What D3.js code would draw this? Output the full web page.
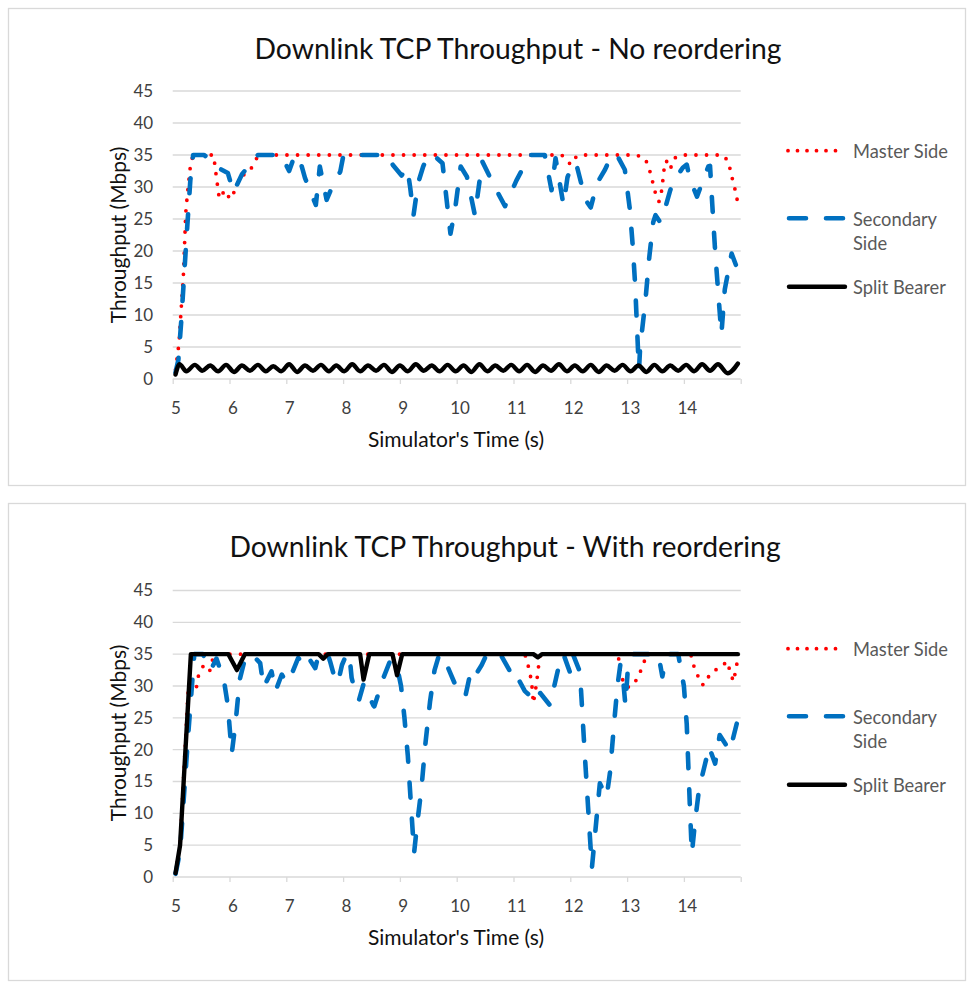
<!DOCTYPE html>
<html>
<head>
<meta charset="utf-8">
<script src="https://cdn.jsdelivr.net/npm/d3@7"></script>
<style>
  body { margin: 0; background: #fff; }
  svg { display: block; }
  text { font-family: Lato, "Open Sans", "Noto Sans", sans-serif; }
</style>
</head>
<body>
<svg id="chart" width="971" height="983"></svg>
<script>
// ---- data -----------------------------------------------------------------
const yTickValues = [0, 5, 10, 15, 20, 25, 30, 35, 40, 45];
const xTickLabels = [5, 6, 7, 8, 9, 10, 11, 12, 13, 14];
const seriesNames = ["Master Side", "Secondary Side", "Split Bearer"];
const chartTitles = [
  "Downlink TCP Throughput - No reordering",
  "Downlink TCP Throughput - With reordering"
];

// [time (s), throughput (Mbps)]
const noReorderMaster = [
  [5.0,1.5],[5.06,5.5],[5.1,11],[5.14,16.5],[5.18,26],[5.21,29],[5.27,34],[5.32,35],
  [5.67,35],[5.72,31.5],[5.77,28.2],[5.87,29.5],[5.96,28.1],[6.02,29],[6.14,31.6],
  [6.3,32.4],[6.43,34.5],[6.5,35],[11.8,35],[11.9,34],[11.96,33.5],[12.06,34.8],
  [12.12,35],[13.1,35],[13.25,34.6],[13.32,33.5],[13.38,31.5],[13.45,29],[13.51,27.7],
  [13.56,29.5],[13.61,33.5],[13.64,34.1],[13.71,32.8],[13.78,34.5],[13.9,35],
  [14.64,35],[14.73,34],[14.78,32.2],[14.82,30.6],[14.87,29],[14.9,27.3]
];
const noReorderSecondary = [
  [5.0,1],[5.05,3],[5.1,9],[5.2,23],[5.26,31],[5.31,35],[5.5,35],[5.62,34.3],
  [5.75,33],[5.92,32.2],[6.02,29.2],[6.17,32],[6.3,33.4],[6.45,35],[6.86,35],
  [7.0,32.5],[7.1,35],[7.19,34.2],[7.28,31.4],[7.47,27.2],[7.54,33.2],[7.66,28],
  [7.78,30.5],[7.9,32.4],[7.95,34.7],[7.98,35],[8.72,35],[8.83,33.4],[8.98,31.8],
  [9.08,33],[9.13,30],[9.19,25.6],[9.27,30.6],[9.36,33.2],[9.45,35],[9.54,35],
  [9.7,33.7],[9.76,29],[9.84,22.7],[9.92,26.4],[10.02,33.2],[10.13,31.6],[10.27,25.6],
  [10.4,34],[10.62,30],[10.8,27],[11.0,31],[11.24,35],[11.5,35],[11.62,29.5],
  [11.69,34.5],[11.83,27.2],[11.9,31.5],[11.97,33.2],[12.05,33.8],[12.15,30.3],
  [12.24,27.7],[12.31,26.8],[12.42,30.6],[12.56,32.7],[12.68,35],[12.77,35],
  [12.91,32.7],[13.0,26.4],[13.05,20.7],[13.09,15],[13.12,9],[13.15,3],[13.16,1.5],
  [13.18,5],[13.27,12],[13.34,19],[13.41,24.5],[13.45,25.6],[13.53,24.5],[13.62,26.7],
  [13.71,29.5],[13.76,30.8],[13.93,33],[14.0,33.5],[14.06,31.1],[14.18,28.5],
  [14.38,33.2],[14.41,33.3],[14.45,27.2],[14.5,20],[14.55,14],[14.61,7],[14.67,14],
  [14.79,19.6],[14.9,17]
];
const noReorderSplit = [
  [5.0,0.7],[5.07,2.3],[5.19,1.2],[5.34,2.2],[5.47,1.3],[5.61,2.1],[5.75,1.2],[5.89,2.2],
  [6.03,1.1],[6.17,2.1],[6.31,1.3],[6.45,2.2],[6.59,1.2],[6.72,2.0],[6.86,1.2],[7.0,2.3],
  [7.14,1.1],[7.28,2.1],[7.42,1.3],[7.56,2.2],[7.7,1.2],[7.83,2.1],[7.97,1.2],[8.11,2.3],
  [8.25,1.2],[8.39,2.1],[8.53,1.3],[8.67,2.2],[8.81,1.1],[8.95,2.1],[9.09,1.2],[9.23,2.3],
  [9.37,1.3],[9.51,2.1],[9.65,1.2],[9.79,2.2],[9.93,1.2],[10.07,2.1],[10.21,1.1],[10.35,2.3],
  [10.49,1.2],[10.63,2.1],[10.77,1.3],[10.91,2.2],[11.05,1.2],[11.19,2.2],[11.33,1.1],
  [11.47,2.1],[11.61,1.3],[11.75,2.3],[11.89,1.2],[12.03,2.1],[12.17,1.2],[12.31,2.2],
  [12.45,1.1],[12.59,2.1],[12.73,1.3],[12.87,2.2],[13.01,1.2],[13.15,2.1],[13.29,1.1],
  [13.43,2.2],[13.57,1.2],[13.71,2.1],[13.85,1.3],[13.99,2.2],[14.13,1.2],[14.27,2.3],
  [14.41,1.3],[14.55,2.3],[14.72,0.9],[14.9,2.4]
];

const reorderMaster = [
  [5.0,0.7],[5.08,5],[5.22,28.9],[5.29,29.4],[5.37,29.9],[5.4,31.5],[5.49,33.2],
  [5.6,32.3],[5.64,33.9],[5.7,35],[11.15,35],[11.2,33.5],[11.24,32],[11.27,30.5],
  [11.3,27.3],[11.34,29.5],[11.37,31.5],[11.39,33],[11.42,35],[12.79,35],[12.83,32.5],
  [12.9,30],[13.0,29.8],[13.12,31],[13.2,32.6],[13.3,35],[14.07,35],[14.13,33],
  [14.2,31.5],[14.27,30.2],[14.33,30.3],[14.4,31.8],[14.52,32.6],[14.64,33.2],
  [14.7,33.9],[14.76,32.5],[14.82,30.7],[14.86,32.3],[14.9,34.4]
];
const reorderSecondary = [
  [5.0,0.5],[5.08,4],[5.15,13],[5.22,22],[5.28,29],[5.33,35],[5.48,35],[5.62,32.5],
  [5.72,34.3],[5.85,31],[5.92,27],[5.99,19.4],[6.06,24.5],[6.13,31],[6.2,33.5],[6.3,35],
  [6.34,35],[6.49,33.6],[6.55,29.8],[6.69,32.3],[6.76,29.2],[6.87,31.8],[6.96,30.5],
  [7.05,32],[7.16,34.4],[7.22,33.8],[7.3,35],[7.46,32.8],[7.52,35],[7.68,35],[7.72,33.9],
  [7.81,31],[7.86,30.5],[7.93,33.3],[8.01,35],[8.06,35],[8.1,31.3],[8.19,28.1],
  [8.23,27.8],[8.31,30.3],[8.48,27],[8.5,26.8],[8.66,31.3],[8.78,34],[8.89,33.5],
  [8.97,30],[9.03,25],[9.09,19],[9.14,12],[9.2,3.8],[9.25,8],[9.33,14],[9.4,21],
  [9.48,27.5],[9.56,32.5],[9.63,34.6],[9.67,35],[9.8,32.8],[9.92,30.3],[10.1,28.3],
  [10.21,32.8],[10.3,32],[10.39,33.3],[10.48,35],[10.72,35],[10.92,31.8],[10.96,32.3],
  [11.15,29.2],[11.36,27.5],[11.42,28.9],[11.59,27],[11.74,32.8],[11.83,35],[11.95,32],
  [12.0,34.9],[12.12,32.2],[12.2,20],[12.33,1.4],[12.47,14.7],[12.59,12.6],[12.65,16.5],
  [12.72,24],[12.78,30],[12.83,33.3],[12.88,31],[12.92,27],[12.96,32.3],[13.05,35],
  [13.5,35],[13.57,31.5],[13.64,34.5],[13.7,35],[13.85,35],[13.95,30],[14.0,24],
  [14.03,17],[14.06,10],[14.09,3.7],[14.15,9],[14.22,14],[14.34,18.4],[14.39,20.5],
  [14.5,17.8],[14.58,22.3],[14.76,19.8],[14.9,24.8]
];
const reorderSplit = [
  [5.0,0.6],[5.08,5],[5.27,35],[5.93,35],[6.08,32.5],[6.22,35],[7.52,35],[7.6,34.3],
  [7.68,35],[8.25,35],[8.31,31],[8.41,35],[8.82,35],[8.9,31.7],[8.99,35],[11.3,35],
  [11.38,34.5],[11.45,35],[14.9,35]
];

// ---- drawing --------------------------------------------------------------
const svg = d3.select("#chart");
const colors = { master: "#ff0000", secondary: "#0070c0", split: "#000000" };

const panels = [
  { title: chartTitles[0], titleX: 518, frameY: 8, yRange: [379, 91], offset: 0,
    data: [noReorderMaster, noReorderSecondary, noReorderSplit], smoothSplit: true },
  { title: chartTitles[1], titleX: 505, frameY: 503, yRange: [877, 590.5], offset: 498,
    data: [reorderMaster, reorderSecondary, reorderSplit], smoothSplit: false }
];

const x = d3.scaleLinear().domain([4.95, 14.95]).range([172.7, 740.7]);
const boundaryTicks = xTickLabels.map(d => d - 0.05).concat([14.95]);

const styles = [
  { key: "master", width: 3.8, dash: "0,10.6", cap: "round" },
  { key: "secondary", width: 4.6, dash: "15,21", cap: "round" },
  { key: "split", width: 4.4, dash: null, cap: "round" }
];

panels.forEach(p => {
  const g = svg.append("g");
  const y = d3.scaleLinear().domain([0, 45]).range(p.yRange);
  const o = p.offset;

  // frame
  g.append("rect")
    .attr("x", 8.5).attr("y", p.frameY + 0.5)
    .attr("width", 957).attr("height", 477)
    .attr("fill", "#fff").attr("stroke", "#d9d9d9").attr("stroke-width", 1.3);

  // title
  g.append("text")
    .attr("x", p.titleX).attr("y", 48 + o)
    .attr("text-anchor", "middle").attr("dominant-baseline", "central")
    .attr("font-size", 28.3).attr("fill", "#111")
    .text(p.title);

  // horizontal gridlines
  g.append("g").selectAll("line")
    .data(yTickValues.filter(v => v > 0))
    .join("line")
    .attr("x1", x.range()[0]).attr("x2", x.range()[1])
    .attr("y1", d => y(d)).attr("y2", d => y(d))
    .attr("stroke", "#d9d9d9").attr("stroke-width", 1.3);

  // y axis labels
  const yAxis = g.append("g")
    .attr("transform", `translate(${x.range()[0]},0)`)
    .call(d3.axisLeft(y).tickValues(yTickValues).tickSize(0).tickPadding(19.5));
  yAxis.select(".domain").remove();
  yAxis.selectAll("text")
    .attr("font-family", "Lato, sans-serif").attr("font-size", 17).attr("fill", "#404040");

  // x axis: tick marks at category boundaries
  const xMarks = g.append("g")
    .attr("transform", `translate(0,${y(0)})`)
    .call(d3.axisBottom(x).tickValues(boundaryTicks).tickSize(5).tickFormat(""));
  xMarks.selectAll("line").attr("stroke", "#d9d9d9").attr("stroke-width", 1.3);
  xMarks.select(".domain").attr("stroke", "#d9d9d9").attr("stroke-width", 1.3)
    .attr("d", `M${x.range()[0]},0H${x.range()[1]}`);

  // x axis labels at category centres
  const xLabels = g.append("g")
    .attr("transform", `translate(0,${y(0)})`)
    .call(d3.axisBottom(x).tickValues(xTickLabels).tickSize(0).tickPadding(23));
  xLabels.select(".domain").remove();
  xLabels.selectAll("text")
    .attr("font-family", "Lato, sans-serif").attr("font-size", 17).attr("fill", "#404040");

  // axis titles
  g.append("text")
    .attr("x", 456).attr("y", 438 + o)
    .attr("text-anchor", "middle").attr("dominant-baseline", "central")
    .attr("font-size", 21).attr("fill", "#111")
    .text("Simulator's Time (s)");
  g.append("text")
    .attr("transform", `translate(117,${235 + o}) rotate(-90)`)
    .attr("text-anchor", "middle").attr("dominant-baseline", "central")
    .attr("font-size", 21).attr("fill", "#111")
    .text("Throughput (Mbps)");

  // series
  p.data.forEach((series, i) => {
    const s = styles[i];
    const line = d3.line()
      .x(d => x(d[0])).y(d => y(d[1]))
      .curve(i === 2 && p.smoothSplit ? d3.curveMonotoneX : d3.curveLinear);
    g.append("path")
      .datum(series)
      .attr("d", line)
      .attr("fill", "none")
      .attr("stroke", colors[s.key])
      .attr("stroke-width", s.width)
      .attr("stroke-linecap", s.cap)
      .attr("stroke-linejoin", "round")
      .attr("stroke-dasharray", s.dash);
  });

  // legend
  const legendY = [150.7, 218.3, 286.7];
  const lg = g.append("g").attr("transform", `translate(0,${o})`);
  styles.forEach((s, i) => {
    lg.append("line")
      .attr("x1", i === 0 ? 788 : 789).attr("x2", 845)
      .attr("y1", legendY[i]).attr("y2", legendY[i])
      .attr("stroke", colors[s.key]).attr("stroke-width", s.width)
      .attr("stroke-linecap", s.cap)
      .attr("stroke-dasharray", i === 0 ? "0,9.5" : (i === 1 ? "17,20" : null));
  });
  const legendText = lg.append("g")
    .attr("font-size", 18.3).attr("fill", "#595959");
  legendText.append("text").attr("x", 853).attr("y", legendY[0])
    .attr("dominant-baseline", "central").text(seriesNames[0]);
  legendText.append("text").attr("x", 853).attr("y", legendY[1] + 1)
    .attr("dominant-baseline", "central").text(seriesNames[1].split(" ")[0]);
  legendText.append("text").attr("x", 853).attr("y", legendY[1] + 25)
    .attr("dominant-baseline", "central").text(seriesNames[1].split(" ")[1]);
  legendText.append("text").attr("x", 853).attr("y", legendY[2])
    .attr("dominant-baseline", "central").text(seriesNames[2]);
});
</script>
</body>
</html>
